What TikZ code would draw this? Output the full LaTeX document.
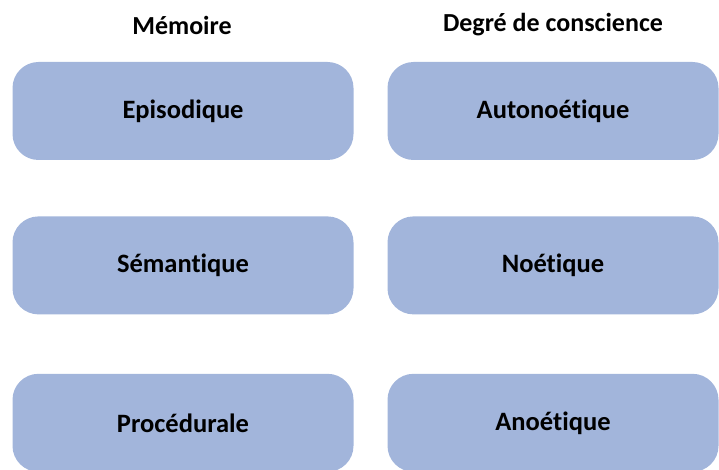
\documentclass[tikz,border=0pt]{standalone}
\usepackage{fontspec}
\setmainfont{Carlito}[Ligatures=NoCommon]
\usetikzlibrary{positioning}

\definecolor{boitebleu}{RGB}{162,181,219}

\begin{document}
\begin{tikzpicture}[x=1pt,y=1pt,node distance=56pt,
    boite/.style={rectangle,rounded corners=26pt,fill=boitebleu,
      minimum height=98pt,font=\fontsize{26.5}{30}\selectfont\bfseries,
      inner sep=0pt},
    gauche/.style={boite,minimum width=341pt},
    droite/.style={boite,minimum width=331pt},
    titre/.style={font=\fontsize{26}{30}\selectfont\bfseries}]
      \useasboundingbox (0,0) rectangle (719,469);

      \node[titre] (mem) at (182,444) {Mémoire};
      \node[titre] (deg) at (553,444) {Degré de conscience};

      \node[gauche] (epi) at (183,358) {Episodique};
      \node[gauche] (sem) [below=of epi] {Sémantique};
      \node[gauche] (pro) [below=59pt of sem] {Procédurale};

      \node[droite] (aut) at (553,358) {Autonoétique};
      \node[droite] (noe) [below=of aut] {Noétique};
      \node[droite] (ano) [below=59pt of noe] {Anoétique};
    \end{tikzpicture}
\end{document}
